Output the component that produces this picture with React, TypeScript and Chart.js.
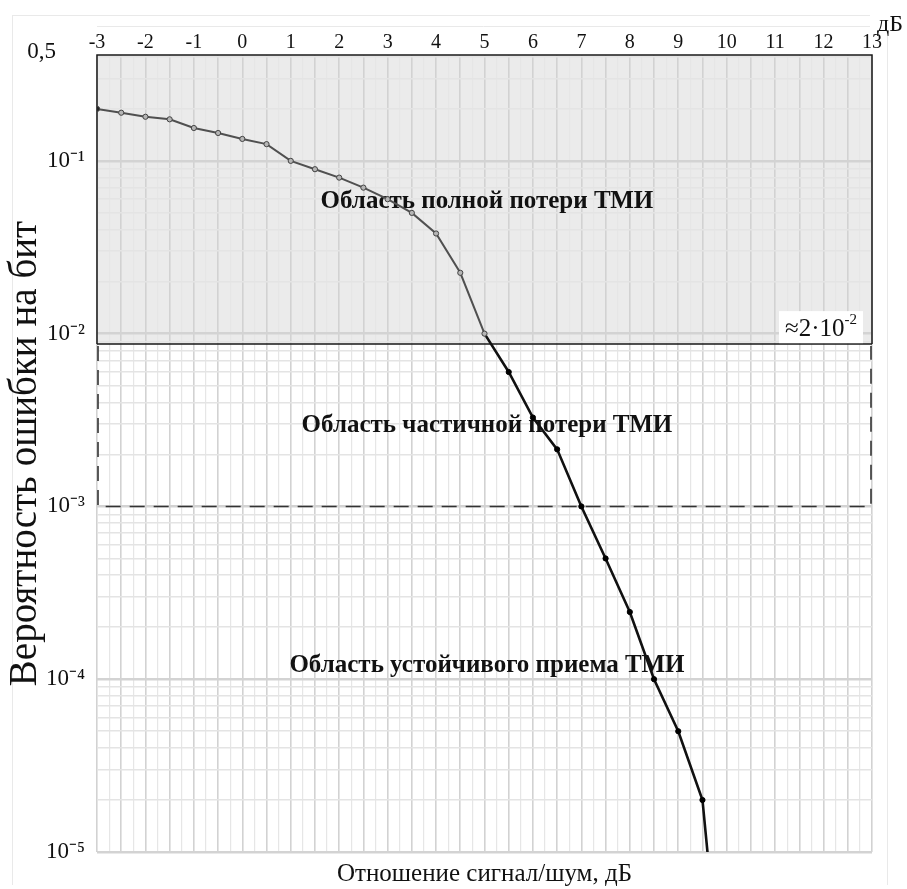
import React, { useEffect, useRef } from 'react';
import { Chart, registerables } from 'chart.js';

Chart.register(...registerables);

// ---- data ----
const snrDb = [-3, -2.5, -2, -1.5, -1, -0.5, 0, 0.5, 1, 1.5, 2, 2.5, 3, 3.5, 4, 4.5, 5, 5.5, 6, 6.5, 7, 7.5, 8, 8.5, 9, 9.5, 10];
const ber = [
  0.2, 0.19, 0.18, 0.174, 0.155, 0.145, 0.134, 0.125, 0.1, 0.0895, 0.08, 0.07, 0.06, 0.05, 0.038, 0.0225,
  0.01, 0.006, 0.00327, 0.00214, 0.001, 0.0005, 0.000245, 0.0001, 0.00005, 0.00002, 0.0000007,
];

const xTickLabels = ['-3', '-2', '-1', '0', '1', '2', '3', '4', '5', '6', '7', '8', '9', '10', '11', '12', '13'];
const yDecadeValues = [1e-1, 1e-2, 1e-3, 1e-4, 1e-5];
const yDecadeLabels = ['10⁻¹', '10⁻²', '10⁻³', '10⁻⁴', '10⁻⁵'];
const yTopLabel = '0,5';
const xUnitLabel = 'дБ';
const xTitle = 'Отношение сигнал/шум, дБ';
const yTitle = 'Вероятность ошибки на бит';

const regionLabels = ['Область полной потери ТМИ', 'Область частичной потери ТМИ', 'Область устойчивого приема ТМИ'];
const regionLabelX = [5.05, 5.05, 5.05];
const regionLabelY = [0.0584, 0.00295, 0.00012];

const fullLossBoundary = 0.0087; // where the shaded box ends in the picture
const partialLossBoundary = 0.001;
const boundaryMain = '≈2·10';
const boundarySup = '-2';

const X_MIN = -3;
const X_MAX = 13;
const Y_MIN = 1e-5;
const Y_MAX = 0.41;
const strongFrom = 5;

const SERIF = "'Liberation Serif', 'Times New Roman', serif";

const yGridValues: number[] = [];
[-5, -4, -3, -2, -1].forEach((e) => {
  for (let m = 1; m <= 9; m++) {
    const v = m * Math.pow(10, e);
    if (v <= Y_MAX) yGridValues.push(v);
  }
});

const isDecade = (v: number) => yDecadeValues.some((d) => Math.abs(d - v) / d < 1e-6);
const isHalf = (v: number) => Math.abs(v * 2 - Math.round(v * 2)) < 1e-9;

const regionsPlugin = {
  id: 'regions',
  beforeDraw(chart: any) {
    const { ctx, chartArea: a, scales } = chart;
    const y = scales.y;
    const yb = y.getPixelForValue(fullLossBoundary);
    ctx.save();
    // faint outer frame of the figure
    ctx.strokeStyle = '#e9e9e9';
    ctx.lineWidth = 1;
    ctx.beginPath();
    ctx.moveTo(12, 15.5);
    ctx.lineTo(870, 15.5);
    ctx.moveTo(97, 26.5);
    ctx.lineTo(870, 26.5);
    ctx.moveTo(12.5, 15);
    ctx.lineTo(12.5, 885);
    ctx.moveTo(887.5, 35);
    ctx.lineTo(887.5, 885);
    ctx.stroke();
    // shaded region of full loss
    ctx.fillStyle = '#ebebeb';
    ctx.fillRect(a.left, a.top, a.right - a.left, yb - a.top);
    ctx.restore();
  },
  beforeDatasetsDraw(chart: any) {
    const { ctx, chartArea: a, scales } = chart;
    const x = scales.x;
    const y = scales.y;
    const yb = y.getPixelForValue(fullLossBoundary);
    const yp = y.getPixelForValue(partialLossBoundary);
    ctx.save();
    // solid box
    ctx.strokeStyle = '#1a1a1a';
    ctx.lineWidth = 1.5;
    ctx.beginPath();
    ctx.moveTo(a.left, yb);
    ctx.lineTo(a.left, a.top);
    ctx.lineTo(a.right, a.top);
    ctx.lineTo(a.right, yb);
    ctx.moveTo(a.left, yb);
    ctx.lineTo(a.right, yb);
    ctx.stroke();
    // dashed box
    ctx.setLineDash([15, 9]);
    ctx.strokeStyle = '#333';
    ctx.lineWidth = 1.6;
    ctx.beginPath();
    ctx.moveTo(a.left + 1, yb + 2);
    ctx.lineTo(a.left + 1, yp);
    ctx.lineTo(a.right - 1, yp);
    ctx.lineTo(a.right - 1, yb + 2);
    ctx.stroke();
    ctx.setLineDash([]);
    // boundary label box
    ctx.font = `25px ${SERIF}`;
    const wMain = ctx.measureText(boundaryMain).width;
    ctx.font = `15px ${SERIF}`;
    const wSup = ctx.measureText(boundarySup).width;
    const boxRight = a.right - 9;
    const boxLeft = boxRight - (wMain + wSup + 12);
    ctx.fillStyle = '#ffffff';
    ctx.fillRect(boxLeft, yb - 33, boxRight - boxLeft, 32);
    ctx.fillStyle = '#111';
    ctx.textBaseline = 'alphabetic';
    ctx.textAlign = 'left';
    ctx.font = `25px ${SERIF}`;
    ctx.fillText(boundaryMain, boxLeft + 6, yb - 8);
    ctx.font = `15px ${SERIF}`;
    ctx.fillText(boundarySup, boxLeft + 6 + wMain, yb - 20);
    // region labels
    ctx.font = `bold 25px ${SERIF}`;
    ctx.textAlign = 'center';
    ctx.textBaseline = 'middle';
    ctx.fillStyle = '#111';
    regionLabels.forEach((t, i) => {
      ctx.fillText(t, x.getPixelForValue(regionLabelX[i]), y.getPixelForValue(regionLabelY[i]));
    });
    ctx.restore();
  },
  afterDraw(chart: any) {
    const { ctx, chartArea: a } = chart;
    ctx.save();
    ctx.fillStyle = '#111';
    ctx.textBaseline = 'alphabetic';
    ctx.font = `23px ${SERIF}`;
    ctx.textAlign = 'right';
    ctx.fillText(yTopLabel, 56, a.top + 3);
    ctx.font = `24px ${SERIF}`;
    ctx.textAlign = 'left';
    ctx.fillText(xUnitLabel, a.right + 5, 31);
    ctx.restore();
  },
};

export default function App() {
  const ref = useRef<HTMLCanvasElement>(null);
  useEffect(() => {
    const canvas = ref.current;
    if (!canvas) return;
    const chart = new Chart(canvas, {
      type: 'line',
      data: {
        datasets: [
          {
            data: snrDb.map((v, i) => ({ x: v, y: ber[i] })),
            borderColor: '#4a4a4a',
            borderWidth: 2,
            segment: {
              borderColor: (c: any) => (snrDb[c.p0DataIndex] >= strongFrom ? '#111' : '#505050'),
              borderWidth: (c: any) => (snrDb[c.p0DataIndex] >= strongFrom ? 2.6 : 2),
            },
            pointRadius: 2.6,
            pointBorderWidth: 1,
            pointBorderColor: (c: any) => (snrDb[c.dataIndex] > strongFrom ? '#000' : '#444'),
            pointBackgroundColor: (c: any) =>
              c.dataIndex === 0 ? '#222' : snrDb[c.dataIndex] > strongFrom ? '#000' : '#b5b5b5',
            tension: 0,
            fill: false,
          } as any,
        ],
      },
      options: {
        animation: false,
        responsive: true,
        maintainAspectRatio: false,
        layout: { padding: { left: 0, right: 35, top: 0, bottom: 0 } },
        plugins: { legend: { display: false }, tooltip: { enabled: false }, title: { display: false } },
        scales: {
          x: {
            type: 'linear',
            position: 'top',
            min: X_MIN,
            max: X_MAX,
            ticks: {
              stepSize: 0.25,
              autoSkip: false,
              maxRotation: 0,
              minRotation: 0,
              padding: 0,
              color: '#111',
              font: { family: SERIF, size: 20 },
              callback: (v: any) => {
                const n = Number(v);
                return Number.isInteger(n) ? xTickLabels[n - X_MIN] : '';
              },
            },
            grid: {
              drawTicks: false,
              color: (c: any) => (isHalf(c.tick.value) ? '#d2d2d2' : '#e6e6e6'),
              lineWidth: (c: any) => (isHalf(c.tick.value) ? 1.6 : 1.2),
            },
            border: { display: false },
            afterFit: (s: any) => {
              s.height = 55;
            },
          },
          x2: {
            type: 'linear',
            position: 'bottom',
            min: X_MIN,
            max: X_MAX,
            ticks: { display: false },
            grid: { display: false, drawTicks: false },
            border: { display: false },
            title: {
              display: true,
              text: xTitle,
              color: '#111',
              font: { family: SERIF, size: 25 },
              padding: { top: 0, bottom: 0 },
            },
            afterFit: (s: any) => {
              s.height = 37;
            },
          },
          y: {
            type: 'logarithmic',
            min: Y_MIN,
            max: Y_MAX,
            afterBuildTicks: (s: any) => {
              s.ticks = yGridValues.map((v) => ({ value: v, major: isDecade(v) }));
            },
            ticks: {
              autoSkip: false,
              padding: 12,
              color: '#111',
              font: { family: SERIF, size: 23 },
              callback: (v: any) => {
                const i = yDecadeValues.findIndex((d) => Math.abs(d - Number(v)) / d < 1e-6);
                return i >= 0 ? yDecadeLabels[i] : '';
              },
            },
            grid: {
              drawTicks: false,
              color: (c: any) => (isDecade(c.tick.value) ? '#d3d3d3' : '#e4e4e4'),
              lineWidth: (c: any) => (isDecade(c.tick.value) ? 2.5 : 1.5),
            },
            border: { display: false },
            title: {
              display: true,
              text: yTitle,
              color: '#111',
              font: { family: SERIF, size: 39 },
              padding: { top: 2, bottom: 0 },
            },
            afterFit: (s: any) => {
              s.width = 97;
            },
          },
        },
      } as any,
      plugins: [regionsPlugin],
    });
    return () => chart.destroy();
  }, []);

  return (
    <div style={{ position: 'absolute', left: 0, top: 0, width: 907, height: 889 }}>
      <canvas ref={ref} />
    </div>
  );
}
